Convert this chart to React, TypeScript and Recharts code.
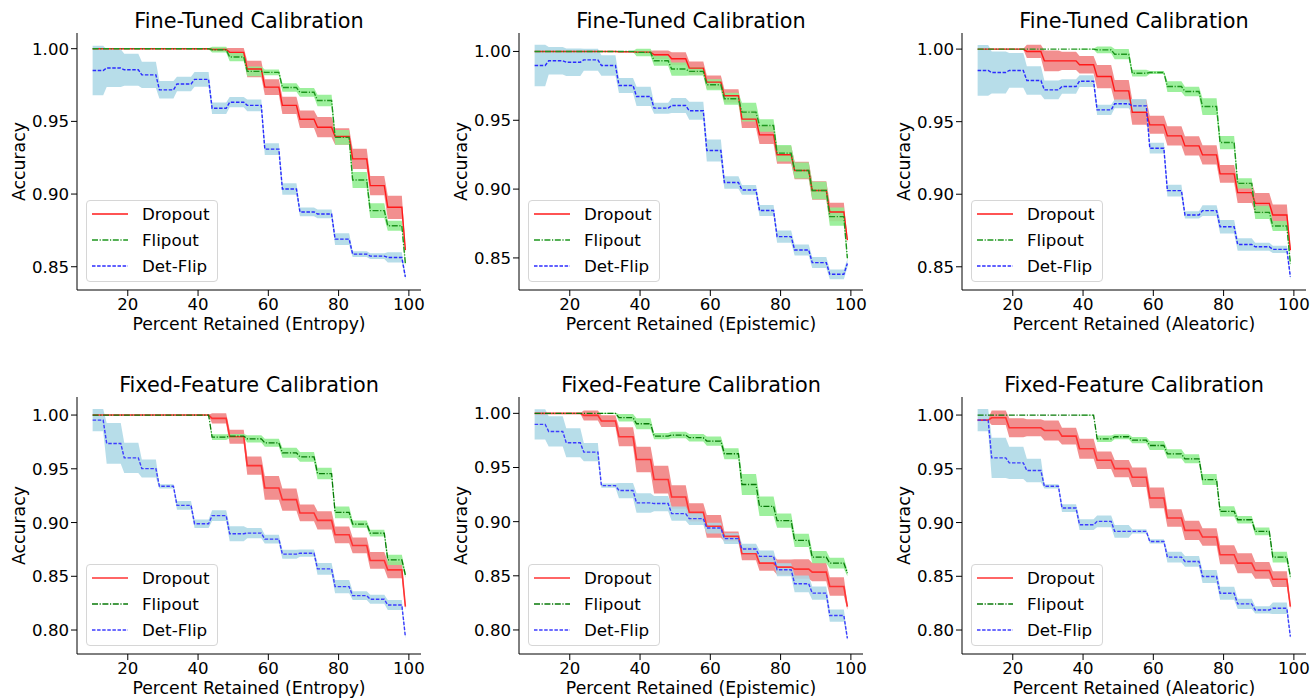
import React from 'react';
import { ComposedChart, Line, Area, XAxis, YAxis, Label, Legend } from 'recharts';

const FONT = '"DejaVu Sans", "Liberation Sans", sans-serif';

// step segments (percent retained)
const SEG_START = [10, 14, 19, 24, 29, 34, 39, 44, 49, 54, 59, 64, 69, 74, 79, 84, 89, 94, 99];
const SEG_END = [13, 18, 23, 28, 33, 38, 43, 48, 53, 58, 63, 68, 73, 78, 83, 88, 93, 98, 99];
const X_TICKS = [20, 40, 60, 80, 100];
const Y_TICKS_FT = [0.85, 0.9, 0.95, 1.0];
const Y_TICKS_FF = [0.8, 0.85, 0.9, 0.95, 1.0];
const SERIES_NAMES = ['Dropout', 'Flipout', 'Det-Flip'];
const TITLES = ['Fine-Tuned Calibration', 'Fixed-Feature Calibration'];
const X_LABELS = ['Percent Retained (Entropy)', 'Percent Retained (Epistemic)', 'Percent Retained (Aleatoric)'];
const Y_LABEL = 'Accuracy';

// ---- Fine-Tuned, Entropy
const FT_ENT_DROPOUT = [1, 1, 1, 1, 1, 1, 1, 0.9995, 0.9975, 0.986, 0.9736, 0.961, 0.9515, 0.946, 0.9396, 0.9242, 0.9058, 0.8909, 0.8615];
const FT_ENT_DROPOUT_SD = [0.0003, 0.0003, 0.0003, 0.0003, 0.0003, 0.0003, 0.0005, 0.001, 0.003, 0.0057, 0.0054, 0.006, 0.006, 0.007, 0.0056, 0.007, 0.0067, 0.008, 0.002];
const FT_ENT_FLIPOUT = [1, 1, 1, 1, 1, 1, 1, 0.9993, 0.9943, 0.9844, 0.9837, 0.9733, 0.97, 0.9644, 0.939, 0.9097, 0.8886, 0.8782, 0.8523];
const FT_ENT_FLIPOUT_SD = [0, 0, 0, 0, 0, 0, 0.0003, 0.002, 0.003, 0.0033, 0.002, 0.003, 0.003, 0.004, 0.005, 0.0055, 0.005, 0.0035, 0.002];
const FT_ENT_DETFLIP = [0.985, 0.9867, 0.9855, 0.982, 0.9717, 0.9757, 0.9789, 0.959, 0.9632, 0.961, 0.9309, 0.9035, 0.8877, 0.8863, 0.869, 0.8587, 0.8573, 0.8564, 0.843];
const FT_ENT_DETFLIP_SD = [0.017, 0.013, 0.011, 0.009, 0.006, 0.005, 0.005, 0.004, 0.0035, 0.004, 0.004, 0.004, 0.003, 0.003, 0.004, 0.002, 0.002, 0.0035, 0.002];

// ---- Fine-Tuned, Epistemic
const FT_EPI_DROPOUT = [1, 1, 1, 1, 1, 0.9998, 0.9995, 0.9976, 0.9947, 0.9879, 0.9777, 0.9678, 0.9508, 0.9394, 0.9249, 0.9135, 0.899, 0.8834, 0.863];
const FT_EPI_DROPOUT_SD = [0.0003, 0.0003, 0.0003, 0.0003, 0.0003, 0.0004, 0.001, 0.003, 0.0048, 0.0048, 0.0048, 0.0048, 0.0064, 0.0067, 0.0064, 0.0064, 0.0067, 0.0067, 0.002];
const FT_EPI_FLIPOUT = [1, 1, 1, 1, 1, 1, 0.9993, 0.9932, 0.9872, 0.9855, 0.9758, 0.9656, 0.9559, 0.9462, 0.9261, 0.9135, 0.899, 0.88, 0.8498];
const FT_EPI_FLIPOUT_SD = [0, 0, 0, 0, 0, 0.0003, 0.0027, 0.0036, 0.0048, 0.003, 0.004, 0.0044, 0.0068, 0.0046, 0.006, 0.0058, 0.0063, 0.0067, 0.002];
const FT_EPI_DETFLIP = [0.9898, 0.9932, 0.9922, 0.9939, 0.9898, 0.9753, 0.9673, 0.9588, 0.9607, 0.9569, 0.928, 0.9048, 0.8994, 0.8844, 0.8655, 0.8558, 0.8466, 0.8381, 0.846];
const FT_EPI_DETFLIP_SD = [0.015, 0.01, 0.01, 0.008, 0.0075, 0.0055, 0.007, 0.004, 0.0055, 0.0065, 0.008, 0.0045, 0.0035, 0.004, 0.0045, 0.004, 0.004, 0.0035, 0.003];

// ---- Fine-Tuned, Aleatoric
const FT_ALE_DROPOUT = [1, 1, 1, 0.9984, 0.9919, 0.9919, 0.9892, 0.9811, 0.9712, 0.9565, 0.9478, 0.9402, 0.9333, 0.9271, 0.914, 0.9011, 0.8937, 0.8857, 0.8615];
const FT_ALE_DROPOUT_SD = [0.0003, 0.0003, 0.0003, 0.0046, 0.0071, 0.0063, 0.006, 0.008, 0.0075, 0.0086, 0.0062, 0.0066, 0.0067, 0.0067, 0.0061, 0.0071, 0.0071, 0.0072, 0.002];
const FT_ALE_FLIPOUT = [1, 1, 1, 1, 1, 1, 1, 0.9995, 0.9965, 0.9834, 0.9839, 0.9742, 0.9708, 0.9604, 0.9356, 0.9075, 0.8875, 0.8781, 0.8523];
const FT_ALE_FLIPOUT_SD = [0, 0, 0, 0, 0, 0, 0.0003, 0.0023, 0.0035, 0.0023, 0.001, 0.0037, 0.0032, 0.0058, 0.0046, 0.0035, 0.0046, 0.0035, 0.002];
const FT_ALE_DETFLIP = [0.9853, 0.9839, 0.9853, 0.9784, 0.9719, 0.9742, 0.9779, 0.9581, 0.9623, 0.9609, 0.9317, 0.9025, 0.8857, 0.8887, 0.8776, 0.8654, 0.8638, 0.862, 0.843];
const FT_ALE_DETFLIP_SD = [0.0175, 0.0145, 0.012, 0.0098, 0.0065, 0.005, 0.004, 0.0035, 0.003, 0.0048, 0.0037, 0.004, 0.0025, 0.0037, 0.0046, 0.0043, 0.0028, 0.0025, 0.002];

// ---- Fixed-Feature, Entropy
const FF_ENT_DROPOUT = [1, 1, 1, 1, 1, 1, 1, 0.9969, 0.9798, 0.953, 0.9322, 0.9213, 0.9089, 0.902, 0.8886, 0.8787, 0.8647, 0.856, 0.8218];
const FF_ENT_DROPOUT_SD = [0.0003, 0.0003, 0.0003, 0.0003, 0.0003, 0.0003, 0.0003, 0.0047, 0.0065, 0.0085, 0.011, 0.0104, 0.0078, 0.0085, 0.0078, 0.0073, 0.0078, 0.0078, 0.003];
const FF_ENT_FLIPOUT = [1, 1, 1, 1, 1, 1, 1, 0.9795, 0.9804, 0.9779, 0.9742, 0.9649, 0.9611, 0.9456, 0.9095, 0.8986, 0.8902, 0.8653, 0.8513];
const FF_ENT_FLIPOUT_SD = [0, 0, 0, 0, 0, 0, 0.0003, 0.0026, 0.002, 0.0034, 0.0037, 0.0047, 0.0045, 0.0054, 0.0054, 0.0034, 0.0031, 0.0047, 0.003];
const FF_ENT_DETFLIP = [0.9953, 0.9736, 0.9602, 0.9502, 0.9337, 0.916, 0.8989, 0.9064, 0.8896, 0.8902, 0.8846, 0.8706, 0.8715, 0.8569, 0.8404, 0.832, 0.8286, 0.8233, 0.7938];
const FF_ENT_DETFLIP_SD = [0.0104, 0.019, 0.014, 0.0084, 0.002, 0.004, 0.004, 0.005, 0.007, 0.0047, 0.004, 0.0042, 0.0034, 0.0054, 0.0062, 0.004, 0.0042, 0.0047, 0.002];

// ---- Fixed-Feature, Epistemic
const FF_EPI_DROPOUT = [1, 1, 1, 0.9981, 0.9929, 0.9784, 0.9574, 0.9389, 0.9228, 0.9086, 0.8957, 0.8864, 0.8704, 0.8617, 0.858, 0.8562, 0.8534, 0.8401, 0.8216];
const FF_EPI_DROPOUT_SD = [0.0003, 0.0003, 0.0003, 0.0046, 0.0054, 0.0088, 0.0117, 0.0128, 0.0108, 0.0085, 0.0105, 0.0045, 0.006, 0.007, 0.007, 0.009, 0.0085, 0.0085, 0.003];
const FF_EPI_FLIPOUT = [1, 1, 1, 1, 1, 0.996, 0.9904, 0.979, 0.9799, 0.9775, 0.9744, 0.9627, 0.9343, 0.9142, 0.9009, 0.8827, 0.8673, 0.8617, 0.8525];
const FF_EPI_FLIPOUT_SD = [0, 0, 0, 0, 0.0005, 0.0035, 0.005, 0.0028, 0.003, 0.0035, 0.0043, 0.005, 0.0097, 0.009, 0.0066, 0.0062, 0.0057, 0.005, 0.003];
const FF_EPI_DETFLIP = [0.9898, 0.9833, 0.9728, 0.9642, 0.9333, 0.9287, 0.9173, 0.9167, 0.9074, 0.9028, 0.8941, 0.8843, 0.8747, 0.8679, 0.8556, 0.8426, 0.834, 0.8133, 0.7923];
const FF_EPI_DETFLIP_SD = [0.014, 0.014, 0.0134, 0.0085, 0.002, 0.007, 0.009, 0.007, 0.0065, 0.006, 0.005, 0.005, 0.005, 0.0055, 0.006, 0.0077, 0.0062, 0.0057, 0.002];

// ---- Fixed-Feature, Aleatoric
const FF_ALE_DROPOUT = [0.9953, 0.9975, 0.9882, 0.9882, 0.9857, 0.9804, 0.9686, 0.958, 0.9502, 0.9421, 0.9229, 0.9042, 0.8927, 0.8865, 0.87, 0.8622, 0.8554, 0.8473, 0.8218];
const FF_ALE_DROPOUT_SD = [0.001, 0.0067, 0.0089, 0.008, 0.0093, 0.0078, 0.0093, 0.0082, 0.0081, 0.009, 0.0096, 0.0081, 0.0089, 0.0082, 0.0089, 0.0093, 0.0078, 0.0073, 0.003];
const FF_ALE_FLIPOUT = [1, 1, 1, 1, 1, 1, 1, 0.9779, 0.9798, 0.9767, 0.9717, 0.9639, 0.9593, 0.94, 0.9104, 0.9026, 0.8918, 0.8678, 0.8498];
const FF_ALE_FLIPOUT_SD = [0, 0, 0, 0, 0, 0, 0.0003, 0.003, 0.0023, 0.003, 0.0042, 0.0044, 0.0042, 0.0051, 0.0047, 0.0034, 0.0036, 0.005, 0.003];
const FF_ALE_DETFLIP = [0.9953, 0.9602, 0.9555, 0.9484, 0.9337, 0.9135, 0.898, 0.9011, 0.8918, 0.8918, 0.8824, 0.8678, 0.8638, 0.8498, 0.8342, 0.8243, 0.8187, 0.8202, 0.7938];
const FF_ALE_DETFLIP_SD = [0.0104, 0.0187, 0.015, 0.011, 0.002, 0.0036, 0.005, 0.0054, 0.006, 0.002, 0.002, 0.005, 0.005, 0.006, 0.006, 0.0047, 0.0034, 0.0053, 0.002];

// ---- styling (kept apart from data)
const X_DOMAIN: [number, number] = [5.55, 103.45];
const PLOT_W = 344;
const PLOT_H = 257;
const Y_AXIS_W = 70;
const TOP_M = 33;
const X_AXIS_H = 50;
const RIGHT_M = 6;
const CHART_W = Y_AXIS_W + PLOT_W + RIGHT_M;
const CHART_H = TOP_M + PLOT_H + X_AXIS_H;
const TICK_FS = 16.6;
const LABEL_FS = 17.3;
const TITLE_FS = 20.8;
const LEGEND_FS = 16.7;

const BAND_FILLS = ['#f08080', '#90ee90', '#add8e6'];
const LINE_STYLES_TOP = [
  { stroke: '#ff1a1a', width: 1.4, dash: undefined },
  { stroke: '#1e961e', width: 1.4, dash: '6 1.6 1.2 1.6' },
  { stroke: '#2b2bff', width: 1.4, dash: '3.5 1.6' },
];
const LINE_STYLES_BOTTOM = [
  { stroke: '#ff3333', width: 1.6, dash: undefined },
  { stroke: '#087a08', width: 1.3, dash: '6 1.6 1.2 1.6' },
  { stroke: '#3d3dff', width: 1.4, dash: '3.5 1.6' },
];

type PanelSeries = { means: number[][]; sds: number[][] };

function buildTable(s: PanelSeries) {
  const keys = ['dropout', 'flipout', 'detflip'];
  const rows: any[] = [];
  SEG_START.forEach((start, i) => {
    const xs = SEG_END[i] === start ? [start] : [start, SEG_END[i]];
    xs.forEach((x) => {
      const row: any = { x };
      keys.forEach((k, j) => {
        const m = s.means[j][i];
        const sd = s.sds[j][i];
        row[k] = m;
        row[k + 'Band'] = [m - sd, m + sd];
      });
      rows.push(row);
    });
  });
  return rows;
}

function XTick(p: any) {
  return (
    <text x={p.x} y={p.y} dy="0.74em" textAnchor="middle" fontFamily={FONT} fontSize={TICK_FS} fill="#000">
      {p.payload.value}
    </text>
  );
}

function YTick(p: any) {
  return (
    <text x={p.x} y={p.y} dy="0.36em" textAnchor="end" fontFamily={FONT} fontSize={TICK_FS} fill="#000">
      {Number(p.payload.value).toFixed(2)}
    </text>
  );
}

function LegendBox({ styles }: { styles: any[] }) {
  return (
    <div
      style={{
        width: 132,
        height: 82,
        boxSizing: 'border-box',
        border: '1px solid #d6d6d6',
        borderRadius: 4,
        background: 'rgba(255,255,255,0.8)',
        fontFamily: FONT,
        fontSize: LEGEND_FS,
        color: '#000',
      }}
    >
      {SERIES_NAMES.map((name, i) => (
        <div key={name} style={{ height: 26, display: 'flex', alignItems: 'center' }}>
          <svg width={36} height={10} style={{ marginLeft: 5, flex: 'none' }}>
            <line
              x1={0}
              y1={5}
              x2={36}
              y2={5}
              stroke={styles[i].stroke}
              strokeWidth={styles[i].width}
              strokeDasharray={styles[i].dash}
            />
          </svg>
          <span style={{ marginLeft: 14, whiteSpace: 'nowrap', lineHeight: '20px' }}>{name}</span>
        </div>
      ))}
    </div>
  );
}

function Panel(props: {
  left: number;
  top: number;
  title: string;
  xLabel: string;
  domain: [number, number];
  yTicks: number[];
  series: PanelSeries;
  lineStyles: any[];
}) {
  const { left, top, title, xLabel, domain, yTicks, series, lineStyles } = props;
  const data = buildTable(series);
  const keys = ['dropout', 'flipout', 'detflip'];
  return (
    <div style={{ position: 'absolute', left, top, width: CHART_W, height: CHART_H }}>
      <div
        style={{
          position: 'absolute',
          left: Y_AXIS_W - 40,
          width: PLOT_W + 80,
          top: 9,
          height: 24,
          lineHeight: '24px',
          textAlign: 'center',
          fontFamily: FONT,
          fontSize: TITLE_FS,
          color: '#000',
          whiteSpace: 'nowrap',
        }}
      >
        {title}
      </div>
      <ComposedChart
        width={CHART_W}
        height={CHART_H}
        data={data}
        margin={{ top: TOP_M, right: RIGHT_M, bottom: 0, left: 0 }}
      >
        <XAxis
          dataKey="x"
          type="number"
          domain={X_DOMAIN}
          ticks={X_TICKS}
          interval={0}
          allowDataOverflow
          height={X_AXIS_H}
          tickSize={6}
          tickMargin={2}
          stroke="#000"
          tick={XTick}
        >
          <Label
            content={(p: any) => {
              const vb = p.viewBox || {};
              return (
                <text
                  x={vb.x + vb.width / 2}
                  y={vb.y + 40}
                  textAnchor="middle"
                  fontFamily={FONT}
                  fontSize={LABEL_FS}
                  fill="#000"
                >
                  {xLabel}
                </text>
              );
            }}
          />
        </XAxis>
        <XAxis
          xAxisId="top"
          orientation="top"
          dataKey="x"
          type="number"
          domain={X_DOMAIN}
          allowDataOverflow
          height={0}
          tick={false}
          tickLine={false}
          stroke="#000"
        />
        <YAxis
          type="number"
          domain={domain}
          ticks={yTicks}
          interval={0}
          allowDataOverflow
          width={Y_AXIS_W}
          tickSize={6}
          tickMargin={2}
          stroke="#000"
          tick={YTick}
        >
          <Label
            content={(p: any) => {
              const vb = p.viewBox || {};
              const cx = 12;
              const cy = vb.y + vb.height / 2;
              return (
                <text
                  x={cx}
                  y={cy}
                  transform={`rotate(-90, ${cx}, ${cy})`}
                  textAnchor="middle"
                  dominantBaseline="central"
                  fontFamily={FONT}
                  fontSize={LABEL_FS}
                  fill="#000"
                >
                  {Y_LABEL}
                </text>
              );
            }}
          />
        </YAxis>
        <YAxis
          yAxisId="right"
          orientation="right"
          type="number"
          domain={domain}
          allowDataOverflow
          width={0}
          tick={false}
          tickLine={false}
          stroke="#000"
        />
        {keys.map((k, i) => (
          <Area
            key={k + 'Band'}
            dataKey={k + 'Band'}
            type="linear"
            stroke="none"
            fill={BAND_FILLS[i]}
            fillOpacity={0.88}
            isAnimationActive={false}
            dot={false}
            activeDot={false}
            legendType="none"
          />
        ))}
        {keys.map((k, i) => (
          <Line
            key={k}
            dataKey={k}
            name={SERIES_NAMES[i]}
            type="linear"
            stroke={lineStyles[i].stroke}
            strokeWidth={lineStyles[i].width}
            strokeDasharray={lineStyles[i].dash}
            dot={false}
            activeDot={false}
            isAnimationActive={false}
          />
        ))}
        <Legend
          layout="vertical"
          align="center"
          verticalAlign="middle"
          wrapperStyle={{ left: Y_AXIS_W + 9, top: TOP_M + PLOT_H - 90, width: 132, height: 82 }}
          content={() => <LegendBox styles={lineStyles} />}
        />
      </ComposedChart>
    </div>
  );
}

const COL_LEFTS = [7, 449, 892];
const ROW_TOPS = [0, 364];

export default function App() {
  const panels = [
    { row: 0, col: 0, domain: [0.834, 1.0108] as [number, number], yTicks: Y_TICKS_FT,
      series: { means: [FT_ENT_DROPOUT, FT_ENT_FLIPOUT, FT_ENT_DETFLIP], sds: [FT_ENT_DROPOUT_SD, FT_ENT_FLIPOUT_SD, FT_ENT_DETFLIP_SD] } },
    { row: 0, col: 1, domain: [0.8267, 1.0134] as [number, number], yTicks: Y_TICKS_FT,
      series: { means: [FT_EPI_DROPOUT, FT_EPI_FLIPOUT, FT_EPI_DETFLIP], sds: [FT_EPI_DROPOUT_SD, FT_EPI_FLIPOUT_SD, FT_EPI_DETFLIP_SD] } },
    { row: 0, col: 2, domain: [0.834, 1.0111] as [number, number], yTicks: Y_TICKS_FT,
      series: { means: [FT_ALE_DROPOUT, FT_ALE_FLIPOUT, FT_ALE_DETFLIP], sds: [FT_ALE_DROPOUT_SD, FT_ALE_FLIPOUT_SD, FT_ALE_DETFLIP_SD] } },
    { row: 1, col: 0, domain: [0.7777, 1.0168] as [number, number], yTicks: Y_TICKS_FF,
      series: { means: [FF_ENT_DROPOUT, FF_ENT_FLIPOUT, FF_ENT_DETFLIP], sds: [FF_ENT_DROPOUT_SD, FF_ENT_FLIPOUT_SD, FF_ENT_DETFLIP_SD] } },
    { row: 1, col: 1, domain: [0.7778, 1.0151] as [number, number], yTicks: Y_TICKS_FF,
      series: { means: [FF_EPI_DROPOUT, FF_EPI_FLIPOUT, FF_EPI_DETFLIP], sds: [FF_EPI_DROPOUT_SD, FF_EPI_FLIPOUT_SD, FF_EPI_DETFLIP_SD] } },
    { row: 1, col: 2, domain: [0.7777, 1.0168] as [number, number], yTicks: Y_TICKS_FF,
      series: { means: [FF_ALE_DROPOUT, FF_ALE_FLIPOUT, FF_ALE_DETFLIP], sds: [FF_ALE_DROPOUT_SD, FF_ALE_FLIPOUT_SD, FF_ALE_DETFLIP_SD] } },
  ];
  return (
    <div style={{ position: 'absolute', left: 0, top: 0, width: 1313, height: 698, background: '#fff', overflow: 'hidden' }}>
      {panels.map((p, i) => (
        <Panel
          key={i}
          left={COL_LEFTS[p.col]}
          top={ROW_TOPS[p.row]}
          title={TITLES[p.row]}
          xLabel={X_LABELS[p.col]}
          domain={p.domain}
          yTicks={p.yTicks}
          series={p.series}
          lineStyles={p.row === 0 ? LINE_STYLES_TOP : LINE_STYLES_BOTTOM}
        />
      ))}
    </div>
  );
}
